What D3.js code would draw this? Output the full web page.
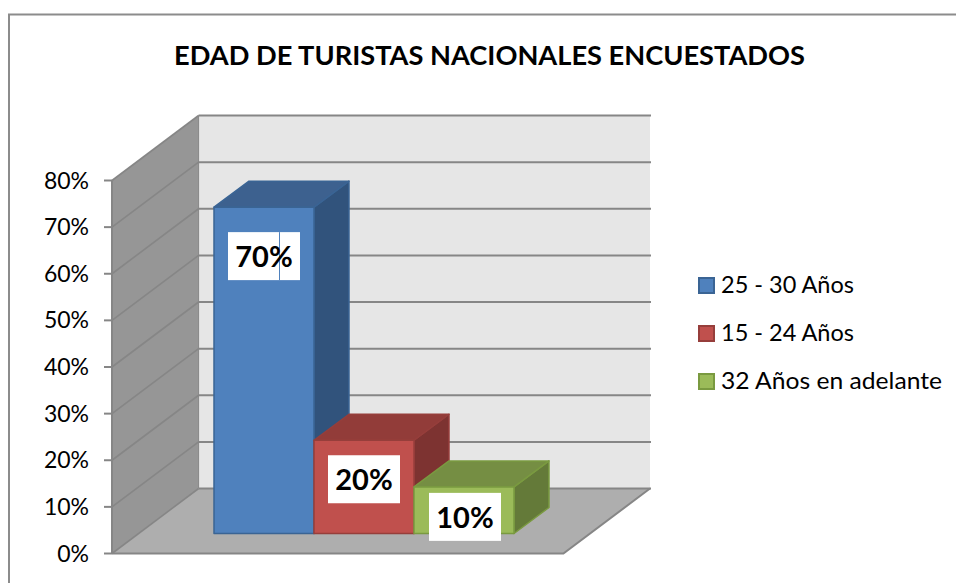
<!DOCTYPE html>
<html><head><meta charset="utf-8">
<script src="https://cdn.jsdelivr.net/npm/d3@7/dist/d3.min.js"></script>
<style>html,body{margin:0;padding:0;background:#fff}svg{display:block}text{font-family:Lato,"Open Sans",sans-serif;fill:#000}</style>
</head><body><svg id="c" width="956" height="583"></svg>
<script>
const title = "EDAD DE TURISTAS NACIONALES ENCUESTADOS";
const categories = ["25 - 30 Años", "15 - 24 Años", "32 Años en adelante"];
const values = [0.7, 0.2, 0.1];
const colors = ["#4f81bd", "#c0504d", "#9bbb59"];
const topColors = ["#3d618f", "#923c39", "#758e43"];
const sideColors = ["#31537c", "#7d3331", "#647a39"];
const edgeColors = ["#3a6494", "#963e3b", "#7a9a40"];
const tickValues = [0, .1, .2, .3, .4, .5, .6, .7, .8];
const legendWidths = [133, 133, 221];

const svg = d3.select("#c");
const y = d3.scaleLinear().domain([0, .8]).range([553.5, 180.5]);
const x = d3.scaleBand().domain(categories).range([214, 514]).padding(0);
const wall = {dx: 86.6, dy: -65, right: 650};
const bar = {dx: 35, dy: -26, base: 20};
const grey = "#868686";
const poly = (pts, fill, stroke, sw) => svg.append("path").attr("d", "M" + pts.map(p => p.join(",")).join("L") + "Z")
  .attr("fill", fill).attr("stroke", stroke || "none").attr("stroke-width", sw || 0).attr("stroke-linejoin", "round");

// outer frame
svg.append("path").attr("d", "M9,583V14.5H956").attr("fill", "none").attr("stroke", "#8c8c8c").attr("stroke-width", 2);

// title
svg.append("text").attr("x", 489.5).attr("y", 65).attr("text-anchor", "middle")
  .attr("font-size", 27).attr("font-weight", 700).attr("textLength", 631).attr("lengthAdjust", "spacingAndGlyphs").text(title);

const x0 = 112, x1 = x0 + wall.dx, xr = wall.right;
const yFront0 = y(0), yTop = y(.8);

// walls and floor
poly([[x1, yTop + wall.dy], [xr, yTop + wall.dy], [xr, yFront0 + wall.dy], [x1, yFront0 + wall.dy]], "#e6e6e6");
poly([[x0, yTop], [x1, yTop + wall.dy], [x1, yFront0 + wall.dy], [x0, yFront0]], "#969696");
poly([[x0, yFront0], [x1, yFront0 + wall.dy], [xr, yFront0 + wall.dy], [xr - wall.dx, yFront0]], "#aeaeae");

// gridlines
tickValues.forEach(t => {
  const yy = y(t);
  svg.append("line").attr("x1", x0).attr("y1", yy).attr("x2", x1).attr("y2", yy + wall.dy).attr("stroke", grey).attr("stroke-width", 1.6);
  svg.append("line").attr("x1", x1).attr("y1", yy + wall.dy).attr("x2", xr + 1).attr("y2", yy + wall.dy).attr("stroke", grey).attr("stroke-width", 2);
  svg.append("line").attr("x1", 104).attr("y1", yy).attr("x2", x0).attr("y2", yy).attr("stroke", grey).attr("stroke-width", 2);
  svg.append("text").attr("x", 89).attr("y", yy + 8).attr("text-anchor", "end").attr("font-size", 23).text(d3.format(".0%")(t));
});
svg.append("line").attr("x1", x0).attr("y1", yTop).attr("x2", x0).attr("y2", yFront0).attr("stroke", grey).attr("stroke-width", 2);
svg.append("line").attr("x1", x1).attr("y1", yTop + wall.dy).attr("x2", x1).attr("y2", yFront0 + wall.dy).attr("stroke", grey).attr("stroke-width", 1);
svg.append("path").attr("d", `M${x0},${yFront0}H${xr - wall.dx}L${xr},${yFront0 + wall.dy}`).attr("fill", "none").attr("stroke", grey).attr("stroke-width", 2);

// bars
categories.forEach((c, i) => {
  const l = x(c), r = l + x.bandwidth(), b = yFront0 - bar.base, t = y(values[i]) - bar.base;
  const e = edgeColors[i];
  poly([[r, t], [r + bar.dx, t + bar.dy], [r + bar.dx, b + bar.dy], [r, b]], sideColors[i], e, 1.5);
  poly([[l, t], [l + bar.dx, t + bar.dy], [r + bar.dx, t + bar.dy], [r, t]], topColors[i], e, 1.5);
  poly([[l, t], [r, t], [r, b], [l, b]], colors[i], e, 1.5);
});

// value labels
categories.forEach((c, i) => {
  const cx = x(c) + x.bandwidth() / 2 + [0, 0, 1][i];
  const cy = y(values[i]) - bar.base + [49, 39, 30][i];
  svg.append("rect").attr("x", cx - 36).attr("y", cy - 24).attr("width", 72).attr("height", 48).attr("fill", "#fff");
  if (i === 0) svg.append("line").attr("x1", cx + 15.5).attr("x2", cx + 15.5).attr("y1", cy - 24).attr("y2", cy + 24).attr("stroke", colors[0]).attr("stroke-width", 1);
  svg.append("text").attr("x", cx).attr("y", cy + 11).attr("text-anchor", "middle").attr("font-size", 29).attr("font-weight", 700)
    .text(d3.format(".0%")(values[i]));
});

// legend
const legendY = d3.scalePoint().domain(categories).range([285.5, 381.5]);
categories.forEach((c, i) => {
  const ly = legendY(c);
  svg.append("rect").attr("x", 699).attr("y", ly - 7.5).attr("width", 15).attr("height", 15).attr("fill", colors[i]).attr("stroke", edgeColors[i]).attr("stroke-width", 2);
  svg.append("text").attr("x", 721).attr("y", ly + 7.5).attr("font-size", 23.5)
    .attr("textLength", legendWidths[i]).attr("lengthAdjust", "spacingAndGlyphs").text(c);
});
</script></body></html>
